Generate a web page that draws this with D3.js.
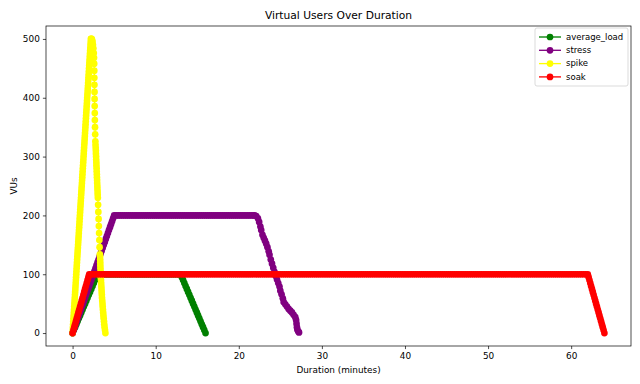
<!DOCTYPE html>
<html>
<head>
<meta charset="utf-8">
<script src="https://cdn.jsdelivr.net/npm/d3@7"></script>
<style>
body { margin: 0; background: #fff; }
text { font-family: "DejaVu Sans", sans-serif; fill: #000; }
</style>
</head>
<body>
<svg width="640" height="384"></svg>
<script>
// [minutes, VUs]
var averageLoad = [
  [0,0],[0.15,5],[0.3,10],[0.45,15],[0.6,20],[0.75,25],[0.9,30],[1.05,35],[1.2,40],[1.35,45],[1.5,50],
  [1.65,55],[1.8,60],[1.95,65],[2.1,70],[2.25,75],[2.4,80],[2.55,85],[2.7,90],[2.85,95],[3,100],
  [3.25,100],[3.5,100],[3.75,100],[4,100],[4.25,100],[4.5,100],[4.75,100],[5,100],[5.25,100],[5.5,100],
  [5.75,100],[6,100],[6.25,100],[6.5,100],[6.75,100],[7,100],[7.25,100],[7.5,100],[7.75,100],[8,100],
  [8.25,100],[8.5,100],[8.75,100],[9,100],[9.25,100],[9.5,100],[9.75,100],[10,100],[10.25,100],[10.5,100],
  [10.75,100],[11,100],[11.25,100],[11.5,100],[11.75,100],[12,100],[12.25,100],[12.5,100],[12.75,100],[13,100],
  [13.15,95],[13.3,90],[13.45,85],[13.6,80],[13.75,75],[13.9,70],[14.05,65],[14.2,60],[14.35,55],[14.5,50],
  [14.65,45],[14.8,40],[14.95,35],[15.1,30],[15.25,25],[15.4,20],[15.55,15],[15.7,10],[15.85,5],[16,0]
];

var stress = [
  [0,0],[0.125,5],[0.25,10],[0.375,15],[0.5,20],[0.625,25],[0.75,30],[0.875,35],[1,40],[1.125,45],[1.25,50],
  [1.375,55],[1.5,60],[1.625,65],[1.75,70],[1.875,75],[2,80],[2.125,85],[2.25,90],[2.375,95],[2.5,100],
  [2.625,105],[2.75,110],[2.875,115],[3,120],[3.125,125],[3.25,130],[3.375,135],[3.5,140],[3.625,145],[3.75,150],
  [3.875,155],[4,160],[4.125,165],[4.25,170],[4.375,175],[4.5,180],[4.625,185],[4.75,190],[4.875,195],[5,200],
  [5.25,200],[5.5,200],[5.75,200],[6,200],[6.25,200],[6.5,200],[6.75,200],[7,200],[7.25,200],[7.5,200],
  [7.75,200],[8,200],[8.25,200],[8.5,200],[8.75,200],[9,200],[9.25,200],[9.5,200],[9.75,200],[10,200],
  [10.25,200],[10.5,200],[10.75,200],[11,200],[11.25,200],[11.5,200],[11.75,200],[12,200],[12.25,200],[12.5,200],
  [12.75,200],[13,200],[13.25,200],[13.5,200],[13.75,200],[14,200],[14.25,200],[14.5,200],[14.75,200],[15,200],
  [15.25,200],[15.5,200],[15.75,200],[16,200],[16.25,200],[16.5,200],[16.75,200],[17,200],[17.25,200],[17.5,200],
  [17.75,200],[18,200],[18.25,200],[18.5,200],[18.75,200],[19,200],[19.25,200],[19.5,200],[19.75,200],[20,200],
  [20.25,200],[20.5,200],[20.75,200],[21,200],[21.25,200],[21.5,200],[21.75,200],[21.9,200],
  [22.1,199],[22.3,195],[22.45,189],[22.6,181],[22.7,175],[22.85,167],[23,162],[23.15,157],[23.3,152],
  [23.45,146],[23.6,139],[23.7,133],[23.85,125],[24,118],[24.15,111],[24.3,104],[24.45,97],[24.6,91],
  [24.75,85],[24.9,79],[25,72],[25.15,66],[25.3,59],[25.4,53],[25.6,49],[25.8,45],[26,41],[26.2,38],
  [26.4,35],[26.6,31],[26.8,27],[26.9,22],[26.95,16],[27,10],[27.05,6],[27.15,3],[27.25,1]
];

var spike = [
  [0,0],[0.022,5],[0.044,10],[0.066,15],[0.088,20],[0.11,25],[0.132,30],[0.154,35],[0.176,40],[0.198,45],
  [0.22,50],[0.242,55],[0.264,60],[0.286,65],[0.308,70],[0.33,75],[0.352,80],[0.374,85],[0.396,90],[0.418,95],
  [0.44,100],[0.462,105],[0.484,110],[0.506,115],[0.528,120],[0.55,125],[0.572,130],[0.594,135],[0.616,140],[0.638,145],
  [0.66,150],[0.682,155],[0.704,160],[0.726,165],[0.748,170],[0.77,175],[0.792,180],[0.814,185],[0.836,190],[0.858,195],
  [0.88,200],[0.902,205],[0.924,210],[0.946,215],[0.968,220],[0.99,225],[1.012,230],[1.034,235],[1.056,240],[1.078,245],
  [1.1,250],[1.122,255],[1.144,260],[1.166,265],[1.188,270],[1.21,275],[1.232,280],[1.254,285],[1.276,290],[1.298,295],
  [1.32,300],[1.342,305],[1.364,310],[1.386,315],[1.408,320],[1.43,325],[1.452,330],[1.474,335],[1.496,340],[1.518,345],
  [1.54,350],[1.562,355],[1.584,360],[1.606,365],[1.628,370],[1.65,375],[1.672,380],[1.694,385],[1.716,390],[1.738,395],
  [1.76,400],[1.782,405],[1.804,410],[1.826,415],[1.848,420],[1.87,425],[1.892,430],[1.914,435],[1.936,440],[1.958,445],
  [1.98,450],[2.002,455],[2.024,460],[2.046,465],[2.068,470],[2.09,475],[2.112,480],[2.134,485],[2.156,490],[2.178,495],
  [2.2,500],[2.25,500],[2.3,500],[2.35,498],[2.4,495],[2.45,490],[2.5,484],[2.55,476],[2.58,468],
  [2.6,458],[2.61,446],[2.62,434],[2.63,422],[2.64,410],[2.65,398],[2.66,386],[2.67,374],[2.68,362],
  [2.7,350],[2.72,338],[2.74,326],
  [2.76,320],[2.78,315],[2.8,310],[2.81,305],[2.83,300],[2.84,295],[2.86,290],[2.87,285],[2.89,280],[2.9,275],
  [2.92,270],[2.93,265],[2.95,260],[2.96,255],[2.98,250],[2.99,245],[3.01,240],[3.02,235],[3.04,230],
  [3.07,218],[3.1,206],[3.13,194],[3.16,182],[3.19,170],[3.22,158],[3.25,146],[3.28,134],
  [3.31,130],[3.32,125],[3.33,120],[3.34,115],[3.35,110],[3.37,105],[3.38,100],[3.39,95],[3.42,90],[3.44,85],
  [3.46,80],[3.48,75],[3.5,70],[3.52,65],[3.54,60],[3.57,55],[3.6,50],[3.62,45],[3.65,40],[3.68,35],
  [3.71,30],[3.74,25],[3.78,20],[3.81,15],[3.85,10],[3.9,5],[3.95,0]
];

var soak = [
  [0,0],[0.1,5],[0.2,10],[0.3,15],[0.4,20],[0.5,25],[0.6,30],[0.7,35],[0.8,40],[0.9,45],[1,50],
  [1.1,55],[1.2,60],[1.3,65],[1.4,70],[1.5,75],[1.6,80],[1.7,85],[1.8,90],[1.9,95],[2,100],
  [2.25,100],[2.5,100],[2.75,100],[3,100],[3.25,100],[3.5,100],[3.75,100],[4,100],[4.25,100],[4.5,100],
  [4.75,100],[5,100],[5.25,100],[5.5,100],[5.75,100],[6,100],[6.25,100],[6.5,100],[6.75,100],[7,100],
  [7.25,100],[7.5,100],[7.75,100],[8,100],[8.25,100],[8.5,100],[8.75,100],[9,100],[9.25,100],[9.5,100],
  [9.75,100],[10,100],[10.25,100],[10.5,100],[10.75,100],[11,100],[11.25,100],[11.5,100],[11.75,100],[12,100],
  [12.25,100],[12.5,100],[12.75,100],[13,100],[13.25,100],[13.5,100],[13.75,100],[14,100],[14.25,100],[14.5,100],
  [14.75,100],[15,100],[15.25,100],[15.5,100],[15.75,100],[16,100],[16.25,100],[16.5,100],[16.75,100],[17,100],
  [17.25,100],[17.5,100],[17.75,100],[18,100],[18.25,100],[18.5,100],[18.75,100],[19,100],[19.25,100],[19.5,100],
  [19.75,100],[20,100],[20.25,100],[20.5,100],[20.75,100],[21,100],[21.25,100],[21.5,100],[21.75,100],[22,100],
  [22.25,100],[22.5,100],[22.75,100],[23,100],[23.25,100],[23.5,100],[23.75,100],[24,100],[24.25,100],[24.5,100],
  [24.75,100],[25,100],[25.25,100],[25.5,100],[25.75,100],[26,100],[26.25,100],[26.5,100],[26.75,100],[27,100],
  [27.25,100],[27.5,100],[27.75,100],[28,100],[28.25,100],[28.5,100],[28.75,100],[29,100],[29.25,100],[29.5,100],
  [29.75,100],[30,100],[30.25,100],[30.5,100],[30.75,100],[31,100],[31.25,100],[31.5,100],[31.75,100],[32,100],
  [32.25,100],[32.5,100],[32.75,100],[33,100],[33.25,100],[33.5,100],[33.75,100],[34,100],[34.25,100],[34.5,100],
  [34.75,100],[35,100],[35.25,100],[35.5,100],[35.75,100],[36,100],[36.25,100],[36.5,100],[36.75,100],[37,100],
  [37.25,100],[37.5,100],[37.75,100],[38,100],[38.25,100],[38.5,100],[38.75,100],[39,100],[39.25,100],[39.5,100],
  [39.75,100],[40,100],[40.25,100],[40.5,100],[40.75,100],[41,100],[41.25,100],[41.5,100],[41.75,100],[42,100],
  [42.25,100],[42.5,100],[42.75,100],[43,100],[43.25,100],[43.5,100],[43.75,100],[44,100],[44.25,100],[44.5,100],
  [44.75,100],[45,100],[45.25,100],[45.5,100],[45.75,100],[46,100],[46.25,100],[46.5,100],[46.75,100],[47,100],
  [47.25,100],[47.5,100],[47.75,100],[48,100],[48.25,100],[48.5,100],[48.75,100],[49,100],[49.25,100],[49.5,100],
  [49.75,100],[50,100],[50.25,100],[50.5,100],[50.75,100],[51,100],[51.25,100],[51.5,100],[51.75,100],[52,100],
  [52.25,100],[52.5,100],[52.75,100],[53,100],[53.25,100],[53.5,100],[53.75,100],[54,100],[54.25,100],[54.5,100],
  [54.75,100],[55,100],[55.25,100],[55.5,100],[55.75,100],[56,100],[56.25,100],[56.5,100],[56.75,100],[57,100],
  [57.25,100],[57.5,100],[57.75,100],[58,100],[58.25,100],[58.5,100],[58.75,100],[59,100],[59.25,100],[59.5,100],
  [59.75,100],[60,100],[60.25,100],[60.5,100],[60.75,100],[61,100],[61.25,100],[61.5,100],[61.75,100],[62,100],
  [62.1,95],[62.2,90],[62.3,85],[62.4,80],[62.5,75],[62.6,70],[62.7,65],[62.8,60],[62.9,55],[63,50],
  [63.1,45],[63.2,40],[63.3,35],[63.4,30],[63.5,25],[63.6,20],[63.7,15],[63.8,10],[63.9,5],[64,0]
];

var seriesNames = ['average_load', 'stress', 'spike', 'soak'];
var seriesColors = ['green', 'purple', 'yellow', 'red'];
var xTicks = [0, 10, 20, 30, 40, 50, 60];
var yTicks = [0, 100, 200, 300, 400, 500];

var series = [averageLoad, stress, spike, soak].map(function(pts, i) {
  return { name: seriesNames[i], color: seriesColors[i], points: pts };
});

var svg = d3.select('svg');
var plotLeft = 46, plotRight = 631, plotTop = 26, plotBottom = 346;

var x = d3.scaleLinear().domain([-3.2, 67.2]).range([plotLeft, plotRight]);
var y = d3.scaleLinear().domain([-22, 522]).range([plotBottom, plotTop]);

// title
svg.append('text')
  .attr('x', (plotLeft + plotRight) / 2)
  .attr('y', 19)
  .attr('text-anchor', 'middle')
  .style('font-size', '10.7px')
  .text('Virtual Users Over Duration');

// axes
var xAxis = d3.axisBottom(x).tickValues(xTicks).tickSize(3.1).tickPadding(3.1);
var yAxis = d3.axisLeft(y).tickValues(yTicks).tickSize(3.1).tickPadding(3.1);

var gx = svg.append('g').attr('transform', 'translate(0,' + plotBottom + ')').call(xAxis);
var gy = svg.append('g').attr('transform', 'translate(' + plotLeft + ',0)').call(yAxis);
[gx, gy].forEach(function(g) {
  g.select('.domain').remove();
  g.selectAll('.tick line').attr('stroke', '#000').attr('stroke-width', 0.7);
  g.selectAll('.tick text').style('font-size', '8.9px').style('font-family', '"DejaVu Sans", sans-serif').attr('fill', '#000');
});

svg.append('text')
  .attr('x', (plotLeft + plotRight) / 2)
  .attr('y', 373)
  .attr('text-anchor', 'middle')
  .style('font-size', '8.9px')
  .text('Duration (minutes)');

svg.append('text')
  .attr('transform', 'translate(17,' + ((plotTop + plotBottom) / 2) + ') rotate(-90)')
  .attr('text-anchor', 'middle')
  .style('font-size', '8.9px')
  .text('VUs');

// plot area
var plot = svg.append('g');
var line = d3.line()
  .x(function(d) { return x(d[0]); })
  .y(function(d) { return y(d[1]); });

series.forEach(function(s) {
  var g = plot.append('g');
  g.append('path')
    .datum(s.points)
    .attr('d', line)
    .attr('fill', 'none')
    .attr('stroke', s.color)
    .attr('stroke-width', 1.33);
  g.selectAll('circle')
    .data(s.points)
    .enter()
    .append('circle')
    .attr('cx', function(d) { return x(d[0]); })
    .attr('cy', function(d) { return y(d[1]); })
    .attr('r', 3.35)
    .attr('fill', s.color);
});

// frame
svg.append('rect')
  .attr('x', plotLeft).attr('y', plotTop)
  .attr('width', plotRight - plotLeft).attr('height', plotBottom - plotTop)
  .attr('fill', 'none')
  .attr('stroke', '#000')
  .attr('stroke-width', 0.7);

// legend
var legend = svg.append('g').attr('transform', 'translate(535,28)');
legend.append('rect')
  .attr('width', 93).attr('height', 58)
  .attr('rx', 2)
  .attr('fill', '#fff')
  .attr('fill-opacity', 0.8)
  .attr('stroke', '#ccc')
  .attr('stroke-width', 0.7);

var items = legend.selectAll('.item')
  .data(series)
  .enter()
  .append('g')
  .attr('class', 'item')
  .attr('transform', function(d, i) { return 'translate(0,' + (9 + i * 13.3) + ')'; });

items.append('line')
  .attr('x1', 4).attr('x2', 26)
  .attr('stroke', function(d) { return d.color; })
  .attr('stroke-width', 1.33);
items.append('circle')
  .attr('cx', 15).attr('r', 3.35)
  .attr('fill', function(d) { return d.color; });
items.append('text')
  .attr('x', 31)
  .attr('dy', '0.33em')
  .style('font-size', '8.5px')
  .text(function(d) { return d.name; });
</script>
</body>
</html>
